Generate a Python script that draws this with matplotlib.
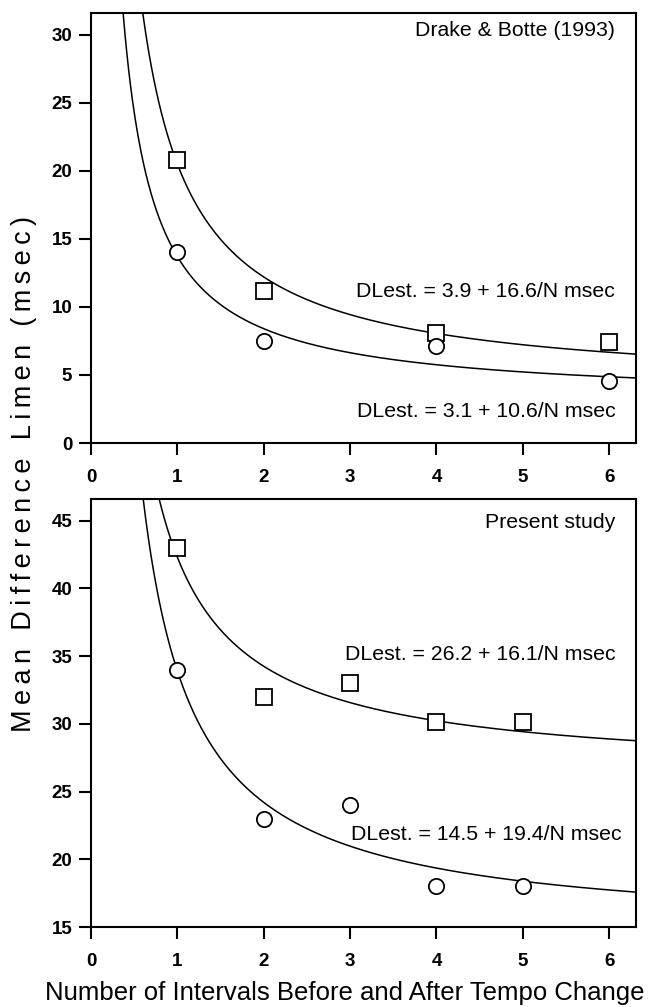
import numpy as np
import matplotlib
matplotlib.use("Agg")
import matplotlib.pyplot as plt

plt.rcParams['font.family'] = ['Liberation Sans', 'DejaVu Sans']

# Top panel: Drake & Botte (1993)
top_n_sq = [1, 2, 4, 6]
top_sq = [20.8, 11.2, 8.1, 7.4]
top_n_ci = [1, 2, 4, 6]
top_ci = [14.0, 7.5, 7.15, 4.55]
top_fit_sq = (3.9, 16.6)
top_fit_ci = (3.1, 10.6)

# Bottom panel: Present study
bot_n = [1, 2, 3, 4, 5]
bot_sq = [43.0, 32.0, 33.0, 30.1, 30.1]
bot_ci = [34.0, 23.0, 24.0, 18.0, 18.0]
bot_fit_sq = (26.2, 16.1)
bot_fit_ci = (14.5, 19.4)

x_ticks = [0, 1, 2, 3, 4, 5, 6]
top_yticks = [0, 5, 10, 15, 20, 25, 30]
bot_yticks = [15, 20, 25, 30, 35, 40, 45]

W, H = 652, 1007
fig = plt.figure(figsize=(W / 100, H / 100), dpi=100)

def fr(l, t, r, b):
    return [l / W, 1 - b / H, (r - l) / W, (b - t) / H]

ax1 = fig.add_axes(fr(91, 13, 636, 443))
ax2 = fig.add_axes(fr(91, 499, 636, 927))

nn = np.linspace(0.2, 6.4, 600)
mk = dict(markersize=11, markerfacecolor='white', markeredgecolor='black',
          markeredgewidth=1.3, linestyle='none', zorder=3)

def style(ax, yticks, ylim):
    ax.set_xlim(0, 6.31)
    ax.set_ylim(*ylim)
    ax.set_xticks(x_ticks)
    ax.set_yticks(yticks)
    for s in ax.spines.values():
        s.set_linewidth(1.5)
    ax.tick_params(direction='out', length=8.5, width=1.5, labelsize=13.5)
    ax.tick_params(axis='y', pad=5)
    ax.tick_params(axis='x', pad=10.5)
    for lab in ax.get_xticklabels() + ax.get_yticklabels():
        lab.set_fontweight('bold')

FS = 15.3
for (a, b) in [top_fit_sq, top_fit_ci]:
    ax1.plot(nn, a + b / nn, color='black', lw=1.1)
ax1.plot(top_n_sq, top_sq, marker='s', **mk)
ax1.plot(top_n_ci, top_ci, marker='o', **mk)
style(ax1, top_yticks, (0, 31.6))
ax1.text(6.07, 30.3, "Drake & Botte (1993)", ha='right', va='center', fontsize=FS)
ax1.text(6.07, 11.1, "DLest. = 3.9 + 16.6/N msec", ha='right', va='center', fontsize=FS)
ax1.text(6.07, 2.3, "DLest. = 3.1 + 10.6/N msec", ha='right', va='center', fontsize=FS)

for (a, b) in [bot_fit_sq, bot_fit_ci]:
    ax2.plot(nn, a + b / nn, color='black', lw=1.1)
ax2.plot(bot_n, bot_sq, marker='s', **mk)
ax2.plot(bot_n, bot_ci, marker='o', **mk)
style(ax2, bot_yticks, (15, 46.6))
ax2.text(6.07, 44.9, "Present study", ha='right', va='center', fontsize=FS)
ax2.text(6.07, 35.1, "DLest. = 26.2 + 16.1/N msec", ha='right', va='center', fontsize=FS)
ax2.text(6.14, 21.8, "DLest. = 14.5 + 19.4/N msec", ha='right', va='center', fontsize=FS)

ax2.set_xlabel("Number of Intervals Before and After Tempo Change", fontsize=18.5)
ax2.xaxis.set_label_coords((345 - 91) / 545, -(993 - 927) / 428)
ax2.xaxis.label.set_va('center')
ylab = "\u2009".join("Mean Difference Limen (msec)")
fig.text(24 / W, 1 - 474 / H, ylab, rotation=90, ha='center', va='center', fontsize=19.5)

fig.savefig("out.png", dpi=100)
